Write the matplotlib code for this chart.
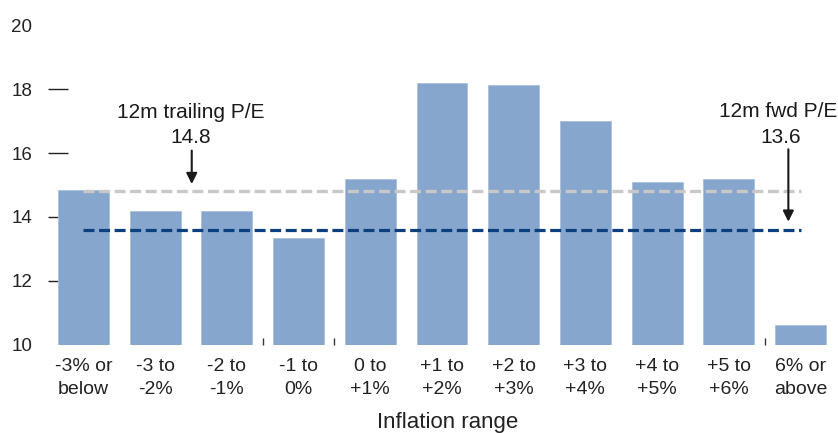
import matplotlib
matplotlib.use("Agg")
import matplotlib.pyplot as plt

plt.rcParams['font.family'] = ['Liberation Sans', 'DejaVu Sans']
plt.rcParams['lines.scale_dashes'] = False

categories = ["-3% or\nbelow", "-3 to\n-2%", "-2 to\n-1%", "-1 to\n0%", "0 to\n+1%",
              "+1 to\n+2%", "+2 to\n+3%", "+3 to\n+4%", "+4 to\n+5%", "+5 to\n+6%",
              "6% or\nabove"]
pe_values = [14.85, 14.2, 14.2, 13.35, 15.2, 18.2, 18.15, 17.0, 15.1, 15.2, 10.6]
trailing_pe = 14.8
fwd_pe = 13.6
tick_marked = [12, 14, 16, 18]
tick_plain = [10, 20]

fig = plt.figure(figsize=(8.38, 4.33), dpi=100)
W, H = 838, 433
ax = fig.add_axes([58 / W, (H - 344.5) / H, (836.4 - 58) / W, 319 / H])
ax.set_axisbelow(True)

x = list(range(len(categories)))
ax.bar(x, [v - 10 for v in pe_values], bottom=10, width=0.71,
       color='#86A6CD', edgecolor='#A9BFDC', linewidth=0.6, zorder=1)

ax.plot([0, 10], [trailing_pe, trailing_pe], color='#C8C8C8', lw=2.4,
        dashes=(7.9, 3.3), zorder=3)
ax.plot([0, 10], [fwd_pe, fwd_pe], color='#0B3F7E', lw=2.3,
        dashes=(7.9, 3.3), zorder=3)

ax.set_xlim(-0.355, 10.5)
ax.set_ylim(10, 20)
for s in ax.spines.values():
    s.set_visible(False)

ax.set_yticks(tick_marked)
ax.set_yticklabels([str(t) for t in tick_marked])
ax.tick_params(axis='y', which='major', length=14.4, width=1.0, color='#222222',
               pad=11.3, labelsize=13.5, labelcolor='#222222', direction='inout')
ax.set_yticks(tick_plain, minor=True)
ax.set_yticklabels([str(t) for t in tick_plain], minor=True)
ax.tick_params(axis='y', which='minor', length=0, pad=18.5, labelsize=13.5,
               labelcolor='#222222')

ax.set_xticks(x)
ax.set_xticklabels(categories, linespacing=1.47)
ax.tick_params(axis='x', which='major', length=0, pad=10, labelsize=14,
               labelcolor='#222222')
ax.set_xticks([2.5, 3.5, 9.5], minor=True)
ax.tick_params(axis='x', which='minor', length=5, width=1.0, color='#333333',
               direction='in')

ax.set_xlabel("Inflation range", fontsize=16, color='#222222', labelpad=9.5)

tcol = '#1a1a1a'
ax.text(1.5, 17.26, "12m trailing P/E", ha='center', va='center', fontsize=15, color=tcol)
ax.text(1.5, 16.5, "14.8", ha='center', va='center', fontsize=15, color=tcol)
ax.annotate('', xy=(1.51, 15.03), xytext=(1.51, 16.08),
            arrowprops=dict(arrowstyle='-|>', lw=1.5, color=tcol,
                            mutation_scale=16, shrinkA=0, shrinkB=0))

ax.text(9.69, 17.3, "12m fwd P/E", ha='center', va='center', fontsize=15, color=tcol)
ax.text(9.72, 16.48, "13.6", ha='center', va='center', fontsize=15, color=tcol)
ax.annotate('', xy=(9.83, 13.85), xytext=(9.83, 16.12),
            arrowprops=dict(arrowstyle='-|>', lw=1.5, color=tcol,
                            mutation_scale=16, shrinkA=0, shrinkB=0))

fig.savefig("out.png", dpi=100)
